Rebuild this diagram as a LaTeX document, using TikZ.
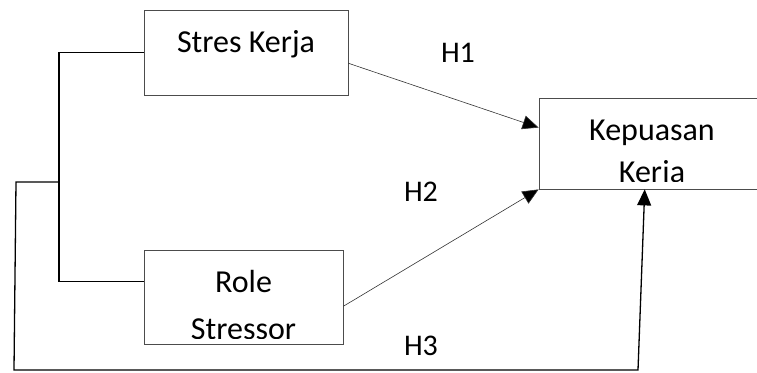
\documentclass[tikz,border=0pt]{standalone}
\usepackage{fontspec}
\setmainfont{Carlito}
\usetikzlibrary{arrows.meta}

\begin{document}
\begin{tikzpicture}[x=1pt,y=-1pt]

\tikzstyle{every node}=[font=\fontsize{32}{36}\selectfont, inner sep=0pt]
\tikzstyle{box}=[draw=black!70, line width=0.8pt, rectangle]
\tikzstyle{hyp}=[font=\fontsize{30}{34}\selectfont, anchor=base]

\useasboundingbox (0,0) rectangle (757,372);

% variables
\node[box, minimum width=204pt, minimum height=85pt] (stres) at (246,52.5) {};
\node[anchor=base] (stres_text) at (246,52) {Stres Kerja};

\node[box, minimum width=199pt, minimum height=93.5pt] (role) at (243.5,297.5) {};
\node[anchor=base] (role_text1) at (243.5,292) {Role};
\begin{scope}
\clip (144,251) rectangle (343,338);
\node[anchor=base] (role_text2) at (243.5,339.5) {Stressor};
\end{scope}

\node[box, minimum width=226pt, minimum height=91pt] (kepuasan) at (652,143.5) {};
\node[anchor=base] (kepuasan_text1) at (652,140) {Kepuasan};
\begin{scope}
\clip (540,99) rectangle (765,181);
\node[anchor=base] (kepuasan_text2) at (652,182.5) {Kerja};
\end{scope}

% hypotheses
\node[hyp] (h1) at (458,62) {H1};
\node[hyp] (h2) at (421,201) {H2};
\node[hyp] (h3) at (421,355) {H3};

\coordinate (brtop) at (59,52.5);
\coordinate (brmid) at (59,182);

\draw[line width=1.3pt] (role.171) -| (brtop) -- (stres.west);

\draw[-{Triangle[length=16pt,width=14pt,fill=black]},line width=0.6pt,draw=black!80] (stres.-6) -- (kepuasan.172);
\draw[-{Triangle[length=16pt,width=14pt,fill=black]},line width=0.6pt,draw=black!80] (role.-5) -- (kepuasan.south west);
\draw[->,>={Triangle[length=16pt,width=14pt]},line width=1.3pt] (brmid) -- (16,182) -- (14,370) -- (638,370) -- (kepuasan.-99);

\end{tikzpicture}
\end{document}
